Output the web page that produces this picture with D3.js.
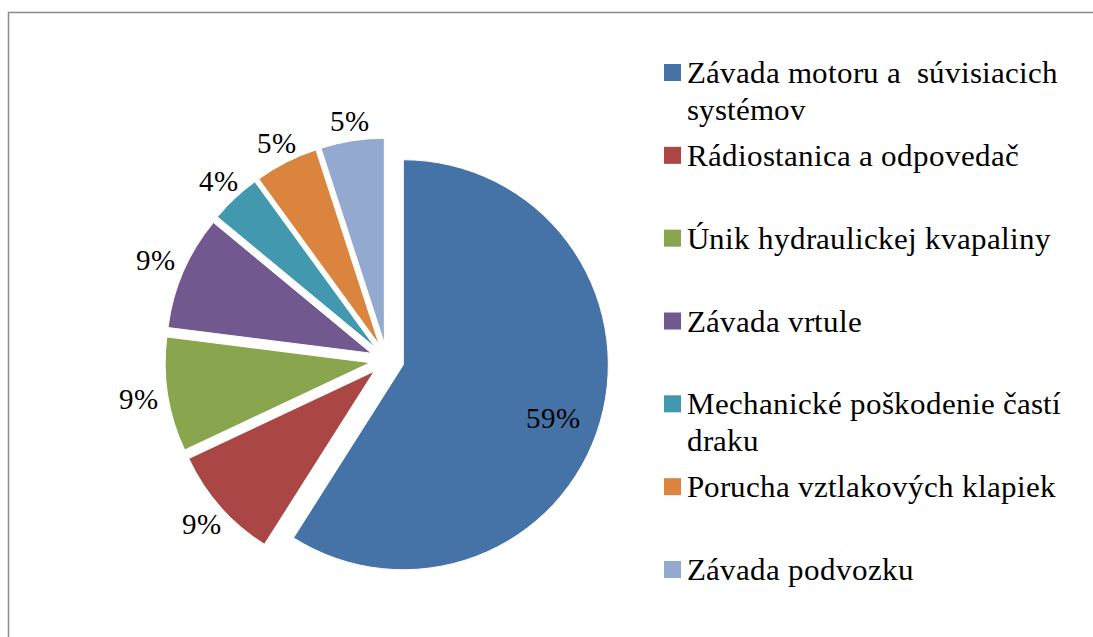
<!DOCTYPE html>
<html>
  <head>
    <meta charset="UTF-8" />
    <script src="https://d3js.org/d3.v7.min.js"></script>
    <style>
      @font-face {
        font-family: "ChartSerif";
        src: local("Liberation Serif"), local("LiberationSerif"), local("LiberationSerif-Regular");
      }
      html, body { margin: 0; background: #fff; overflow: hidden; }
      svg { display: block; }
      svg text { font-family: "ChartSerif", "Liberation Serif", "Times New Roman", "DejaVu Serif", serif; }
    </style>
  </head>
  <body>
    <div id="chart"></div>
    <script>
      // values (percent of failures)
      var categories = [
        "Závada motoru a  súvisiacich systémov",
        "Rádiostanica a odpovedač",
        "Únik hydraulickej kvapaliny",
        "Závada vrtule",
        "Mechanické poškodenie častí draku",
        "Porucha vztlakových klapiek",
        "Závada podvozku"
      ];
      var legendLines = [
        ["Závada motoru a  súvisiacich", "systémov"],
        ["Rádiostanica a odpovedač"],
        ["Únik hydraulickej kvapaliny"],
        ["Závada vrtule"],
        ["Mechanické poškodenie častí", "draku"],
        ["Porucha vztlakových klapiek"],
        ["Závada podvozku"]
      ];
      var values = [59, 9, 9, 9, 4, 5, 5];
      var colors = ["#4572A7", "#AA4643", "#89A54E", "#71588F", "#4198AF", "#DB843D", "#93A9CF"];

      var cx = 387, cy = 360, radius = 205, explode = 17;

      var svg = d3.select("#chart").append("svg").attr("width", 1093).attr("height", 637);

      svg.append("line").attr("x1", 8.5).attr("x2", 8.5).attr("y1", 12).attr("y2", 637)
        .attr("stroke", "#8c8c8c").attr("stroke-width", 1.5);
      svg.append("line").attr("x1", 8).attr("x2", 1093).attr("y1", 12.5).attr("y2", 12.5)
        .attr("stroke", "#8c8c8c").attr("stroke-width", 1.5);

      var pie = d3.pie().sort(null).value(function (d) { return d; });
      var arcs = pie(values);
      var total = d3.sum(values);
      var arc = d3.arc().innerRadius(0).outerRadius(radius);

      function offset(d, r) {
        var a = (d.startAngle + d.endAngle) / 2;
        return [Math.sin(a) * r, -Math.cos(a) * r];
      }

      var g = svg.append("g").attr("transform", "translate(" + cx + "," + cy + ")");

      g.selectAll("path")
        .data(arcs)
        .enter()
        .append("path")
        .attr("d", arc)
        .attr("transform", function (d) {
          var o = offset(d, explode);
          return "translate(" + o[0] + "," + o[1] + ")";
        })
        .attr("fill", function (d, i) { return colors[i]; })
        .attr("stroke", "#fff")
        .attr("stroke-width", 1);

      // percentage labels, the big slice inside, the rest just outside the rim
      function labelPos(d, i) {
        if (i === 0) {
          var e = offset(d, explode), c = offset(d, radius * 0.76);
          return [e[0] + c[0], e[1] + c[1] + 20];
        }
        var a = (d.startAngle + d.endAngle) / 2;
        var hw = 20, hh = 11;
        var edge = Math.min(hw / Math.max(Math.abs(Math.sin(a)), 1e-6), hh / Math.max(Math.abs(Math.cos(a)), 1e-6));
        var o = offset(d, radius + explode + 9 + edge);
        return [o[0], o[1] + 10];
      }
      arcs.forEach(function (d, i) {
        var p = labelPos(d, i);
        g.append("text")
          .attr("x", p[0])
          .attr("y", p[1])
          .attr("text-anchor", "middle")
          .style("font-size", "29px")
          .text(Math.round(d.value / total * 100) + "%");
      });

      // legend
      var rowY = d3.scaleLinear().domain([0, categories.length - 1]).range([83, 580]);
      categories.forEach(function (c, i) {
        var y = rowY(i);
        svg.append("rect")
          .attr("x", 664).attr("y", y - 19)
          .attr("width", 17).attr("height", 17)
          .attr("fill", colors[i]);
        legendLines[i].forEach(function (line, j) {
          svg.append("text")
            .attr("x", 687)
            .attr("y", y + j * 37)
            .style("font-size", "31px")
            .style("white-space", "pre")
            .text(line);
        });
      });
    </script>
  </body>
</html>
